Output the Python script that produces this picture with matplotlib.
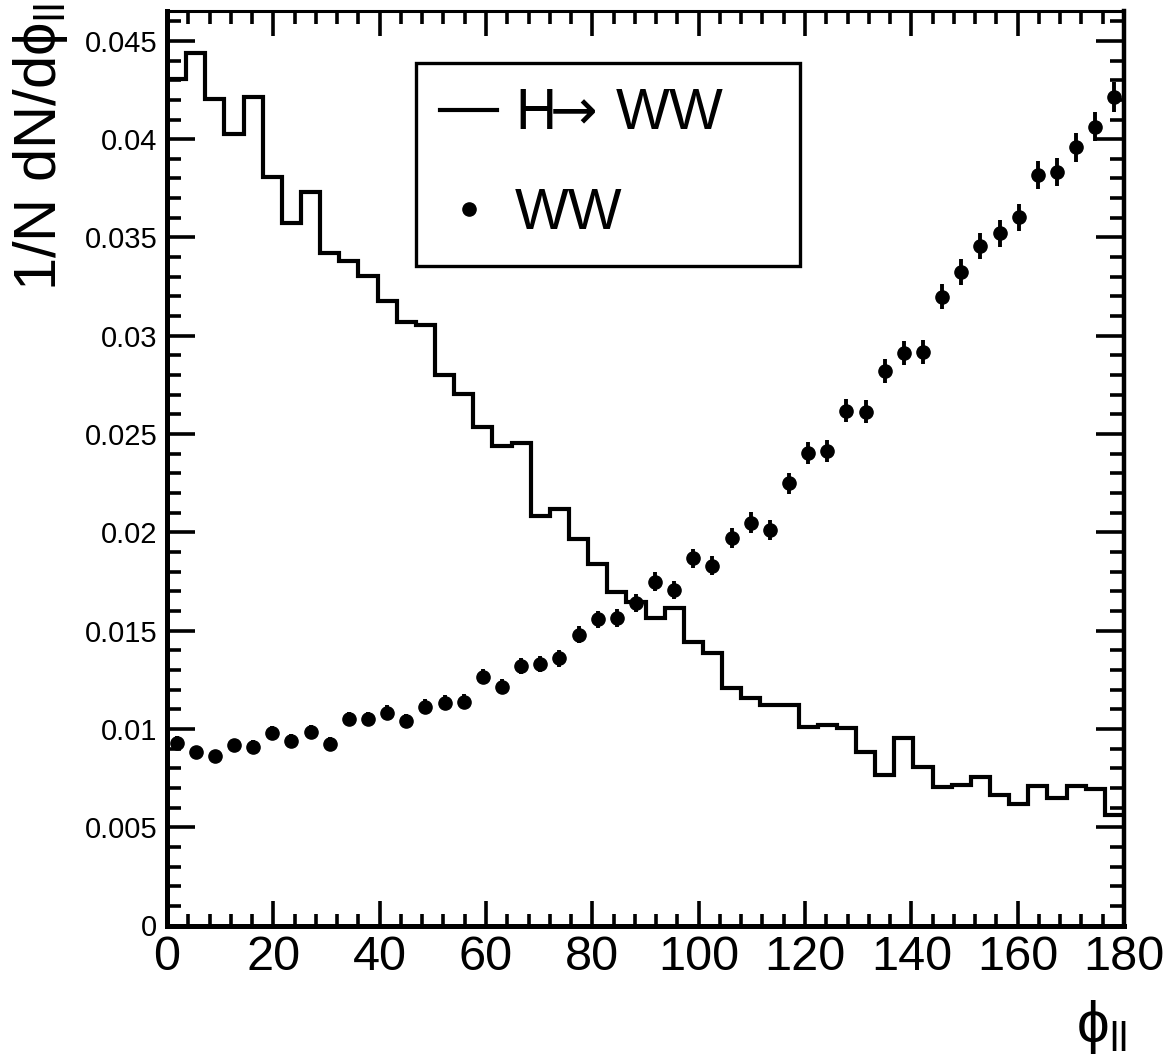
import numpy as np
import matplotlib
matplotlib.use("Agg")
import matplotlib.pyplot as plt
from matplotlib.ticker import MultipleLocator, FuncFormatter
from matplotlib.lines import Line2D

plt.rcParams['font.family'] = ['Liberation Sans', 'DejaVu Sans']
plt.rcParams['mathtext.fontset'] = 'custom'
plt.rcParams['mathtext.rm'] = 'Liberation Sans'
plt.rcParams['mathtext.it'] = 'Liberation Sans:italic'
plt.rcParams['mathtext.sf'] = 'DejaVu Sans'

# ---- data ----
x_min, x_max, n_bins = 0.0, 180.0, 50

h_ww = [0.04304, 0.04436, 0.04204, 0.04026, 0.04216, 0.03809, 0.03575, 0.03732,
        0.03422, 0.03382, 0.03304, 0.03176, 0.03070, 0.03054, 0.02800, 0.02702,
        0.02537, 0.02439, 0.02453, 0.02083, 0.02117, 0.01964, 0.01837, 0.01698,
        0.01644, 0.01563, 0.01617, 0.01444, 0.01388, 0.01210, 0.01156, 0.01122,
        0.01122, 0.01011, 0.01020, 0.01003, 0.00884, 0.00766, 0.00955, 0.00808,
        0.00706, 0.00715, 0.00754, 0.00664, 0.00618, 0.00711, 0.00647, 0.00711,
        0.00694, 0.00562]

ww = [0.00930, 0.00881, 0.00862, 0.00917, 0.00909, 0.00978, 0.00938, 0.00986,
      0.00923, 0.01050, 0.01050, 0.01083, 0.01042, 0.01113, 0.01133, 0.01138,
      0.01266, 0.01215, 0.01320, 0.01328, 0.01359, 0.01478, 0.01557, 0.01563,
      0.01639, 0.01749, 0.01707, 0.01868, 0.01830, 0.01970, 0.02049, 0.02012,
      0.02249, 0.02405, 0.02415, 0.02619, 0.02614, 0.02820, 0.02914, 0.02919,
      0.03198, 0.03322, 0.03456, 0.03521, 0.03602, 0.03817, 0.03831, 0.03958,
      0.04063, 0.04216]

ww_err = [0.00034, 0.00033, 0.00033, 0.00034, 0.00034, 0.00035, 0.00034, 0.00035,
          0.00034, 0.00036, 0.00036, 0.00037, 0.00036, 0.00037, 0.00038, 0.00038,
          0.00040, 0.00039, 0.00041, 0.00041, 0.00042, 0.00043, 0.00044, 0.00045,
          0.00046, 0.00047, 0.00046, 0.00049, 0.00048, 0.00050, 0.00052, 0.00051,
          0.00054, 0.00056, 0.00056, 0.00058, 0.00058, 0.00060, 0.00061, 0.00061,
          0.00064, 0.00066, 0.00067, 0.00068, 0.00069, 0.00071, 0.00071, 0.00073,
          0.00074, 0.00076]

x_ticks_major, x_ticks_minor = 20, 4
y_ticks_major, y_ticks_minor = 0.005, 0.001
y_max = 0.04652

label_sig = r'H$\!\!\mathsf{\rightarrow}\!$ WW'
label_bkg = 'WW'

edges = np.linspace(x_min, x_max, n_bins + 1)
centers = 0.5 * (edges[:-1] + edges[1:])

# ---- figure ----
W, H = 1168, 1057
fig = plt.figure(figsize=(W / 100, H / 100), dpi=100)
ax = fig.add_axes([167 / W, 1 - 925.5 / H, (1124 - 167) / W, (925.5 - 11) / H])

ax.stairs(h_ww, edges, color='black', linewidth=3, baseline=None)
ax.errorbar(centers, ww, yerr=ww_err, fmt='o', color='black',
            markersize=9.5, elinewidth=2.8, capsize=0)

ax.set_xlim(x_min, x_max)
ax.set_ylim(0, y_max)

ax.xaxis.set_major_locator(MultipleLocator(x_ticks_major))
ax.xaxis.set_minor_locator(MultipleLocator(x_ticks_minor))
ax.yaxis.set_major_locator(MultipleLocator(y_ticks_major))
ax.yaxis.set_minor_locator(MultipleLocator(y_ticks_minor))
ax.yaxis.set_major_formatter(FuncFormatter(lambda v, p: '%g' % round(v, 4)))
ax.xaxis.set_major_formatter(FuncFormatter(lambda v, p: '%g' % v))

ax.tick_params(which='both', direction='in', top=True, right=True)
ax.tick_params(axis='y', which='major', length=20, width=2.6, labelsize=21, pad=7)
ax.tick_params(axis='y', which='minor', length=10, width=2.6)
ax.tick_params(axis='x', which='major', length=18, width=2.6, labelsize=35, pad=7)
ax.tick_params(axis='x', which='minor', length=9, width=2.6)

for side, lw in [('left', 3.6), ('bottom', 3.6), ('right', 3.2), ('top', 2.2)]:
    ax.spines[side].set_linewidth(lw)

# axis titles
fig.text(40 / W, 1 - 4 / H, r'1/N dN/d$\mathrm{\phi}_{\mathrm{ll}}$', rotation=90,
         ha='center', va='top', fontsize=43)
fig.text(1127 / W, 1 - 998 / H, r'$\mathrm{\phi}_{\mathrm{ll}}$',
         ha='right', va='top', fontsize=42)

# legend
h1 = Line2D([], [], color='black', linewidth=3)
h2 = Line2D([], [], color='black', marker='o', linestyle='none', markersize=9.5)
x0 = (416 - 167) / 957
x1 = (800 - 167) / 957
ytop = (925.5 - 63) / 914.5
ybot = (925.5 - 265) / 914.5
leg = ax.legend([h1, h2], [label_sig, label_bkg], loc='upper left',
                bbox_to_anchor=(x0, ybot, x1 - x0, ytop - ybot), mode='expand',
                borderaxespad=0, fontsize=41, frameon=True, fancybox=False,
                edgecolor='black', framealpha=1, borderpad=0.43,
                labelspacing=0.8, handlelength=1.0, handletextpad=0.31)
leg.get_frame().set_linewidth(2.4)

fig.savefig('out.png', dpi=100)
